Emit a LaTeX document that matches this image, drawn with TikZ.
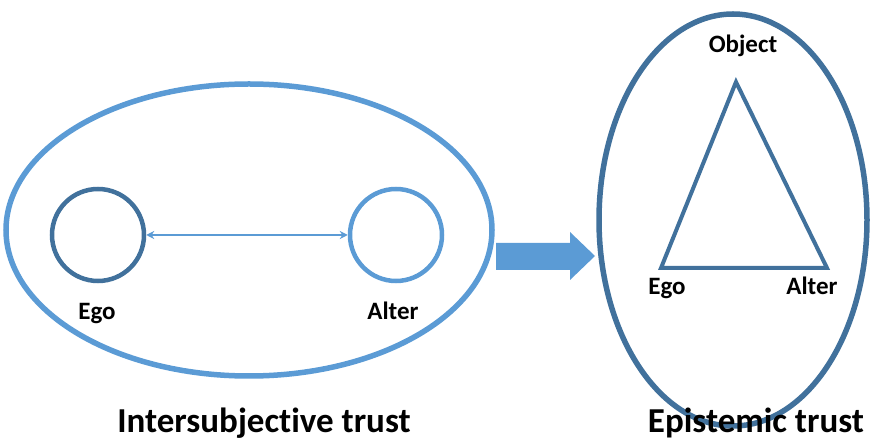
\documentclass[tikz,border=0pt]{standalone}
\usepackage{fontspec}
\setmainfont{Carlito}[Ligatures=NoCommon]
\usetikzlibrary{shapes.geometric, positioning, arrows.meta}

\definecolor{lightblue}{HTML}{5B9BD5}
\definecolor{darkblue}{HTML}{41719C}

\tikzset{
    person/.style={circle, draw, line width=4.5pt, minimum size=92pt, inner sep=0pt},
    label/.style={anchor=base, font=\bfseries\fontsize{25}{28}\selectfont},
    caption/.style={anchor=base, font=\bfseries\fontsize{35}{40}\selectfont}
}

\begin{document}
\begin{tikzpicture}[x=1pt, y=-1pt]
\useasboundingbox (0,0) rectangle (873,443);

\node[ellipse, draw=lightblue, line width=5.5pt, minimum width=486pt, minimum height=292pt] (inter) at (249,230) {};
\node[ellipse, draw=darkblue, line width=5.5pt, minimum width=268pt, minimum height=412pt] (epist) at (733,220) {};

\node[person, draw=darkblue] (ego) at (98,235) {};
\node[person, draw=lightblue] (alter) at (396,235) {};
\node[label] (egoL) at (97,320) {Ego};
\node[label] (alterL) at (393,320) {Alter};

\draw[lightblue, line width=2.4pt, {Stealth[length=8pt,width=8pt]}-{Stealth[length=8pt,width=8pt]}] (ego) -- (alter);

% block arrow
\fill[lightblue] (496,243) -- (570,243) -- (570,232) -- (595,256) -- (570,280) -- (570,270) -- (496,270) -- cycle;

\coordinate (obj) at (736,82);
\coordinate (egoT) at (661,268);
\coordinate (alterT) at (827,268);
\draw[darkblue, line width=4pt, line join=miter] (obj) -- (egoT) -- (alterT) -- cycle;

\node[label] (objL) at (743,53) {Object};
\node[label] (egoR) at (667,295) {Ego};
\node[label] (alterR) at (812,295) {Alter};

\node[caption] (interL) at (264,433) {Intersubjective trust};
\node[caption] (epistL) at (756,433) {Epistemic trust};
\end{tikzpicture}
\end{document}
